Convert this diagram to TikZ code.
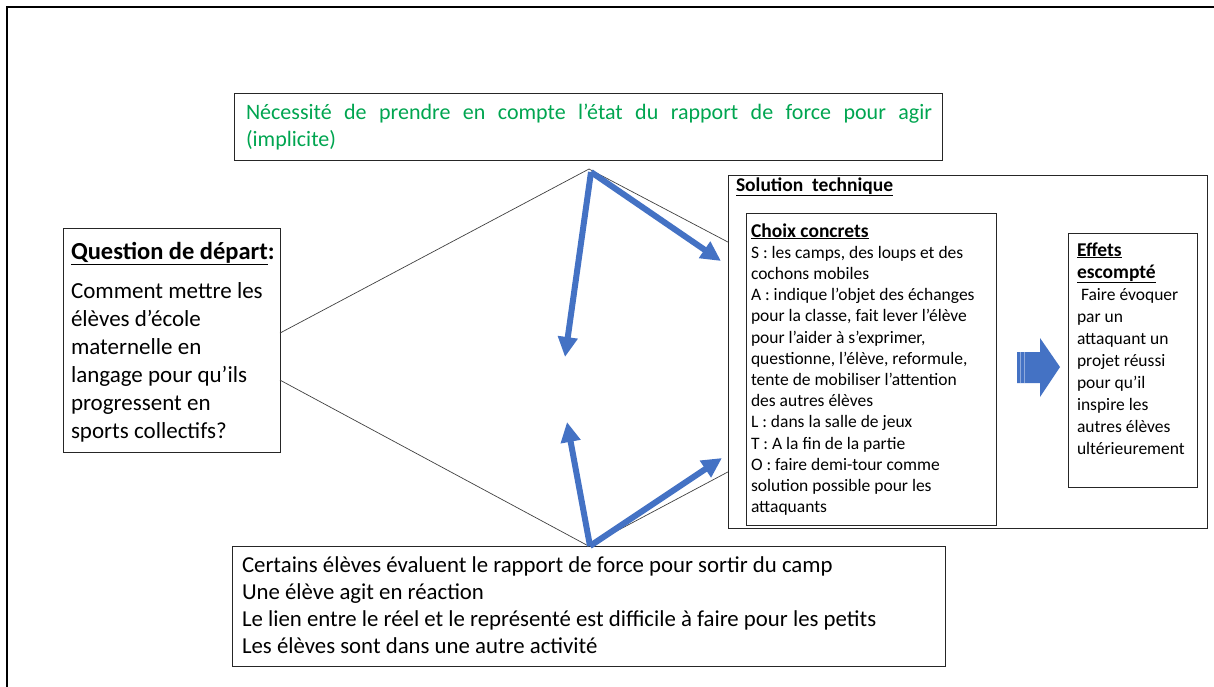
\documentclass[tikz,border=0pt]{standalone}
\usepackage{fontspec}
\setmainfont{Carlito}
\usetikzlibrary{arrows.meta,calc}
\definecolor{arrowblue}{RGB}{68,114,196}
\definecolor{txtgreen}{RGB}{0,165,80}
\begin{document}
\begin{tikzpicture}[x=1pt,y=-1pt,
  box/.style={draw=black!85, line width=0.8pt, inner sep=0pt, outer sep=0pt, anchor=north west},
  txt/.style={anchor=base west, inner sep=0pt, outer sep=0pt, align=left},
  bigtxt/.style={txt, font=\fontsize{22.8}{27}\selectfont},
  smalltxt/.style={txt, font=\fontsize{17.5}{21.2}\selectfont},
  conn/.style={draw=black!75, line width=0.7pt},
  bluearrow/.style={draw=arrowblue, line width=6pt, -{Triangle[width=19pt,length=20pt]}}]
\useasboundingbox (0,0) rectangle (1214,686);
% outer frame
\draw[line width=1.8pt] (7,700) -- (7,7) -- (1230,7);
% boxes
\node[box, minimum width=708pt, minimum height=67pt] (need) at (234,93) {};
\node[box, minimum width=217pt, minimum height=224pt] (q) at (63,228) {};
\node[box, minimum width=479pt, minimum height=353pt] (sol) at (728,175) {};
\node[box, minimum width=250pt, minimum height=312pt] (choix) at (746,213) {};
\node[box, minimum width=129pt, minimum height=254pt] (eff) at (1068,233) {};
\node[box, minimum width=713pt, minimum height=120pt] (obs) at (232,546) {};
% texts
\node[bigtxt, font=\fontsize{22}{27}\selectfont, text=txtgreen] (needtxt) at (246,146)
  {\makebox[686pt][s]{Nécessité de prendre en compte l’état du rapport de force pour agir}\\(implicite)};
\node[bigtxt, font=\fontsize{23}{28}\selectfont] (qtxt) at (71,438)
  {{\fontsize{24.5}{28}\selectfont\textbf{\underline{Question de départ}:}}\\[11pt]Comment mettre les\\élèves d’école\\maternelle en\\langage pour qu’ils\\progressent en\\sports collectifs?};
\node[smalltxt, font=\bfseries\fontsize{19.5}{21.2}\selectfont] (soltxt) at (736,191)
  {\underline{Solution\ \ technique}};
\node[smalltxt] (choixtxt) at (751,512.6)
  {{\fontsize{19.5}{21.2}\selectfont\textbf{\underline{Choix concrets}}}\\S : les camps, des loups et des\\cochons mobiles\\A : indique l’objet des échanges\\pour la classe, fait lever l’élève\\pour l’aider à s’exprimer,\\questionne, l’élève, reformule,\\tente de mobiliser l’attention\\des autres élèves\\L : dans la salle de jeux\\T : A la fin de la partie\\O : faire demi-tour comme\\solution possible pour les\\attaquants};
\node[smalltxt, font=\fontsize{17.5}{22}\selectfont] (efftxt) at (1077,454)
  {{\fontsize{19.5}{22}\selectfont\textbf{\underline{Effets}}}\\{\fontsize{19.5}{22}\selectfont\textbf{\underline{escompté}}}\\\hspace*{4pt}Faire évoquer\\par un\\attaquant un\\projet réussi\\pour qu’il\\inspire les\\autres élèves\\ultérieurement};
\node[bigtxt] (obstxt) at (242,653)
  {Certains élèves évaluent le rapport de force pour sortir du camp\\Une élève agit en réaction\\Le lien entre le réel et le représenté est difficile à faire pour les petits\\Les élèves sont dans une autre activité};
% thin connectors
\coordinate (apexT) at (589,169);
\coordinate (apexB) at (obs.north);
\draw[conn] ($(q.north east)!0.469!(q.south east)$) -- (apexT) -- ($(sol.north west)!0.19!(sol.south west)$);
\draw[conn] ($(q.north east)!0.679!(q.south east)$) -- (apexB) -- ($(sol.north west)!0.841!(sol.south west)$);
% blue arrows
\coordinate (a1) at (565,357);
\coordinate (a2) at (721,261);
\coordinate (a3) at (567,422);
\coordinate (a4) at (722,458);
\coordinate (sT) at (591,172);
\coordinate (sB) at (590,546);
\draw[bluearrow] (sT) -- (a1);
\draw[bluearrow] (sT) -- (a2);
\draw[bluearrow] (sB) -- (a3);
\draw[bluearrow] (sB) -- (a4);
% block arrow
\fill[arrowblue] (1017,352) -- (1040,352) -- (1040,338) -- (1060,367) -- (1040,397) -- (1040,383) -- (1017,383) -- cycle;
\draw[arrowblue!60!white, line width=0.6pt] (1020,352) -- (1020,383) (1024,352) -- (1024,383);
\end{tikzpicture}
\end{document}
